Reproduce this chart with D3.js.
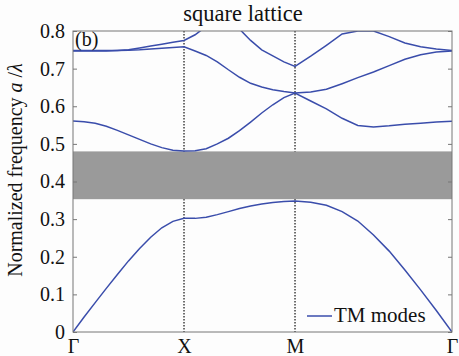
<!DOCTYPE html>
<html>
<head>
<meta charset="utf-8">
<script src="https://cdn.jsdelivr.net/npm/d3@7"></script>
<style>
  body { margin: 0; background: #fdfdfd; }
  svg { display: block; }
  svg text { font-family: "Liberation Serif", "Times New Roman", serif; }
</style>
</head>
<body>
<figure id="chart" style="margin:0"></figure>
<script>
// wave vector along Γ-X-M-Γ (path length)
const kPath = [0, 0.1, 0.2, 0.3, 0.4, 0.5, 0.6, 0.7, 0.8, 0.9, 1.0,
  1.1, 1.2, 1.3, 1.4, 1.5, 1.6, 1.7, 1.8, 1.9, 2.0,
  2.1414, 2.2828, 2.4243, 2.5657, 2.7071, 2.8485, 2.9899, 3.1314, 3.2728, 3.4142];

const band1 = [0, 0.040, 0.078, 0.116, 0.153, 0.189, 0.222, 0.252, 0.277, 0.294, 0.302,
  0.302, 0.305, 0.312, 0.320, 0.328, 0.335, 0.340, 0.344, 0.347, 0.348,
  0.345, 0.337, 0.320, 0.295, 0.258, 0.215, 0.165, 0.112, 0.057, 0];
const band2 = [0.561, 0.559, 0.555, 0.547, 0.536, 0.524, 0.512, 0.500, 0.490, 0.483, 0.481,
  0.482, 0.487, 0.500, 0.515, 0.535, 0.558, 0.582, 0.604, 0.623, 0.635,
  0.614, 0.593, 0.568, 0.549, 0.545, 0.548, 0.552, 0.555, 0.558, 0.560];
const band3 = [0.747, 0.747, 0.747, 0.747, 0.748, 0.749, 0.750, 0.752, 0.754, 0.756, 0.758,
  0.747, 0.735, 0.718, 0.697, 0.677, 0.661, 0.651, 0.644, 0.639, 0.635,
  0.638, 0.645, 0.660, 0.676, 0.691, 0.708, 0.725, 0.737, 0.744, 0.747];
const band4 = [0.748, 0.748, 0.748, 0.748, 0.748, 0.750, 0.755, 0.760, 0.765, 0.770, 0.775,
  0.790, 0.812, 0.830, 0.830, 0.805, 0.775, 0.750, 0.734, 0.718, 0.706,
  0.733, 0.762, 0.792, 0.800, 0.800, 0.785, 0.768, 0.758, 0.752, 0.748];

const symPoints = [0, 1, 2, 3.4142];
const symLabels = ["Γ", "X", "M", "Γ"];
const yTicks = [0, 0.1, 0.2, 0.3, 0.4, 0.5, 0.6, 0.7, 0.8];
const gapRange = [0.353, 0.480];

const W = 459, H = 356;
const pLeft = 73, pRight = 452, pTop = 31, pBottom = 332;
const blue = "#3a4dab";
const serif = "Liberation Serif";

const svg = d3.select("#chart").append("svg")
  .attr("width", W).attr("height", H);

const x = d3.scaleLinear().domain([0, 3.4142]).range([pLeft, pRight]);
const y = d3.scaleLinear().domain([0, 0.8]).range([pBottom, pTop]);

svg.append("defs").append("clipPath").attr("id", "plot")
  .append("rect").attr("x", pLeft).attr("y", pTop)
  .attr("width", pRight - pLeft).attr("height", pBottom - pTop);

// dotted lines at X and M
svg.selectAll("line.sym")
  .data(symPoints.slice(1, 3))
  .enter().append("line")
  .attr("class", "sym")
  .attr("x1", d => x(d)).attr("x2", d => x(d))
  .attr("y1", pTop).attr("y2", pBottom)
  .attr("stroke", "#111").attr("stroke-width", 1.2)
  .attr("stroke-dasharray", "1.5,1.5");

// photonic band gap
svg.append("rect")
  .attr("x", pLeft).attr("width", pRight - pLeft)
  .attr("y", y(gapRange[1])).attr("height", y(gapRange[0]) - y(gapRange[1]))
  .attr("fill", "#9a9a9a");

// bands
const line = d3.line()
  .x((d, i) => x(kPath[i]))
  .y(d => y(d));

svg.append("g").attr("clip-path", "url(#plot)")
  .selectAll("path")
  .data([band1, band2, band3, band4])
  .enter().append("path")
  .attr("d", line)
  .attr("fill", "none")
  .attr("stroke", blue)
  .attr("stroke-width", 1.5);

// axes
svg.append("g")
  .attr("transform", `translate(${pLeft},0)`)
  .call(d3.axisLeft(y).tickValues(yTicks).tickSize(-4).tickPadding(8)
    .tickFormat(d => d === 0 ? "0" : d3.format(".1f")(d)))
  .call(g => g.select(".domain").remove())
  .call(g => g.selectAll("line").attr("stroke", "#777"))
  .call(g => g.selectAll("text").attr("font-size", 20).attr("fill", "#111")
    .attr("font-family", serif));

svg.append("g")
  .attr("transform", `translate(${pRight},0)`)
  .call(d3.axisRight(y).tickValues(yTicks).tickSize(-4).tickFormat(""))
  .call(g => g.select(".domain").remove())
  .call(g => g.selectAll("line").attr("stroke", "#777"));

svg.append("g")
  .attr("transform", `translate(0,${pBottom})`)
  .call(d3.axisBottom(x).tickValues(symPoints).tickSize(0).tickPadding(7)
    .tickFormat((d, i) => symLabels[i]))
  .call(g => g.select(".domain").remove())
  .call(g => g.selectAll("text").attr("font-size", 20).attr("fill", "#111")
    .attr("font-family", serif));

// frame
svg.append("rect")
  .attr("x", pLeft).attr("y", pTop)
  .attr("width", pRight - pLeft).attr("height", pBottom - pTop)
  .attr("fill", "none").attr("stroke", "#777").attr("stroke-width", 1);

// title
svg.append("text")
  .attr("x", 243).attr("y", 21)
  .attr("text-anchor", "middle")
  .attr("font-family", serif)
  .attr("font-size", 22.5).attr("fill", "#111")
  .text("square lattice");

svg.append("text")
  .attr("x", 75).attr("y", 46)
  .attr("font-family", serif)
  .attr("font-size", 20).attr("fill", "#111")
  .text("(b)");

// y label
const yl = svg.append("text")
  .attr("transform", "translate(22,170) rotate(-90)")
  .attr("text-anchor", "middle")
  .attr("font-family", serif)
  .attr("font-size", 20).attr("fill", "#111");
yl.append("tspan").text("Normalized frequency ");
yl.append("tspan").attr("font-style", "italic").text("a");
yl.append("tspan").text(" /");
yl.append("tspan").attr("font-style", "italic").text("λ");

// legend
svg.append("line")
  .attr("x1", 307).attr("x2", 332).attr("y1", 316).attr("y2", 316)
  .attr("stroke", blue).attr("stroke-width", 1.5);
svg.append("text")
  .attr("x", 334).attr("y", 322)
  .attr("font-family", serif)
  .attr("font-size", 21).attr("fill", "#111")
  .text("TM modes");
</script>
</body>
</html>
